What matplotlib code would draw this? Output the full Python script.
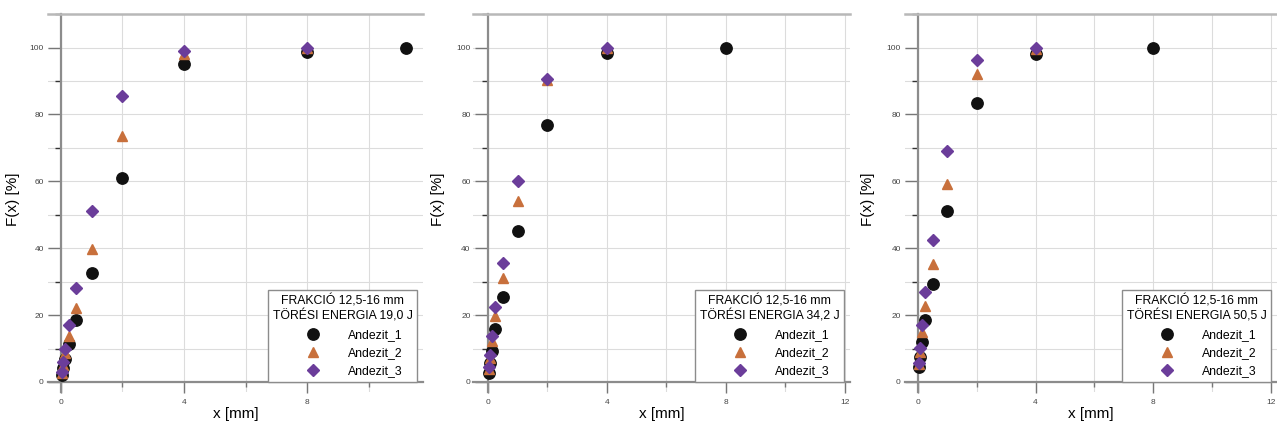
import numpy as np
import matplotlib
matplotlib.use("Agg")
import matplotlib.pyplot as plt
from matplotlib.ticker import MultipleLocator

plt.rcParams["font.family"] = ["Liberation Sans", "DejaVu Sans"]

# sieve sizes [mm]
sieves = [0.04, 0.063, 0.125, 0.25, 0.5, 1, 2, 4, 8, 11.2]

energies = ["19,0", "34,2", "50,5"]

# F(x) [%] per panel
a1_19 = [2.0, 4.2, 6.8, 11.5, 18.5, 32.7, 61.0, 95.0, 98.7, 100]
a2_19 = [2.8, 5.2, 8.7, 13.6, 22.1, 39.9, 73.6, 98.1, 100]
a3_19 = [3.1, 6.0, 10.0, 16.9, 28.2, 51.2, 85.4, 99.0, 100]

a1_34 = [2.6, 5.8, 9.2, 15.8, 25.5, 45.2, 76.7, 98.5, 100]
a2_34 = [3.8, 7.2, 12.2, 19.8, 31.1, 54.2, 90.3, 99.8]
a3_34 = [4.4, 8.1, 13.6, 22.3, 35.6, 60.0, 90.7, 100]

a1_50 = [4.4, 7.4, 12.1, 18.6, 29.4, 51.1, 83.3, 98.1, 100]
a2_50 = [5.3, 9.0, 14.8, 22.6, 35.3, 59.2, 92.2, 99.6]
a3_50 = [5.8, 10.3, 16.9, 27.0, 42.5, 69.1, 96.3, 100]

series_names = ["Andezit_1", "Andezit_2", "Andezit_3"]
panels = [(a1_19, a2_19, a3_19), (a1_34, a2_34, a3_34), (a1_50, a2_50, a3_50)]

# layout (figure fractions) and x-limits per panel
positions = [[0.0376, 0.0841, 0.2937, 0.883],
             [0.3704, 0.0841, 0.2952, 0.883],
             [0.7087, 0.0841, 0.2913, 0.883]]
xlims = [(-0.42, 11.77), (-0.50, 12.17), (-0.44, 12.21)]
label_x = [-0.075, -0.074, -0.08]

styles = [dict(marker="o", color="#111111", ms=8.2),
          dict(marker="^", color="#c8703c", ms=6.6),
          dict(marker="D", color="#6b3d9a", ms=5.8)]

fig = plt.figure(figsize=(12.77, 4.28), dpi=100)

for k in range(3):
    ax = fig.add_axes(positions[k])
    for data, name, st in zip(panels[k], series_names, styles):
        x = sieves[:len(data)]
        ax.plot(x, data, linestyle="none", marker=st["marker"], color=st["color"],
                ms=st["ms"], mec=st["color"], label=name, zorder=5, clip_on=False)

    ax.set_xlim(*xlims[k])
    ax.set_ylim(-3, 110)

    ax.xaxis.set_major_locator(MultipleLocator(4))
    ax.xaxis.set_minor_locator(MultipleLocator(2))
    ax.yaxis.set_major_locator(MultipleLocator(20))
    ax.yaxis.set_minor_locator(MultipleLocator(10))

    ax.spines["left"].set_position(("data", 0))
    ax.spines["bottom"].set_position(("data", 0))
    ax.spines["right"].set_visible(False)
    for s in ["left", "bottom"]:
        ax.spines[s].set_color("#8c8c8c")
        ax.spines[s].set_linewidth(1.6)
    ax.spines["top"].set_color("#b8b8b8")
    ax.spines["top"].set_linewidth(1.8)

    ax.grid(True, which="both", color="#dcdcdc", linewidth=0.8)
    ax.set_axisbelow(True)

    ax.tick_params(axis="both", which="major", colors="#777777", labelcolor="#444444",
                   labelsize=6, width=1.0)
    ax.tick_params(axis="x", which="major", length=8, pad=4)
    ax.tick_params(axis="x", which="minor", length=3.6, width=1.0, colors="#777777")
    ax.tick_params(axis="y", which="major", length=9.4, pad=3)
    ax.tick_params(axis="y", which="minor", length=4.3, width=1.0, colors="#333333")

    ax.set_ylabel("F(x) [%]", fontsize=11)
    ax.yaxis.set_label_coords(label_x[k], 0.51)
    ax.set_xlabel("x [mm]", fontsize=11)
    ax.xaxis.set_label_coords(0.5, -0.04)

    leg = ax.legend(title=f"FRAKCIÓ 12,5-16 mm\nTÖRÉSI ENERGIA {energies[k]} J",
                    loc="lower right", bbox_to_anchor=(0.985, 0.026), borderaxespad=0,
                    fontsize=8.8, title_fontsize=8.8, fancybox=False, framealpha=1,
                    edgecolor="#8c8c8c", handlelength=4.9, handletextpad=0.43,
                    labelspacing=0.5, borderpad=0.4)
    leg.get_title().set_multialignment("center")
    leg.get_frame().set_linewidth(1.0)
    leg.set_zorder(10)

fig.savefig("out.png", dpi=100)
